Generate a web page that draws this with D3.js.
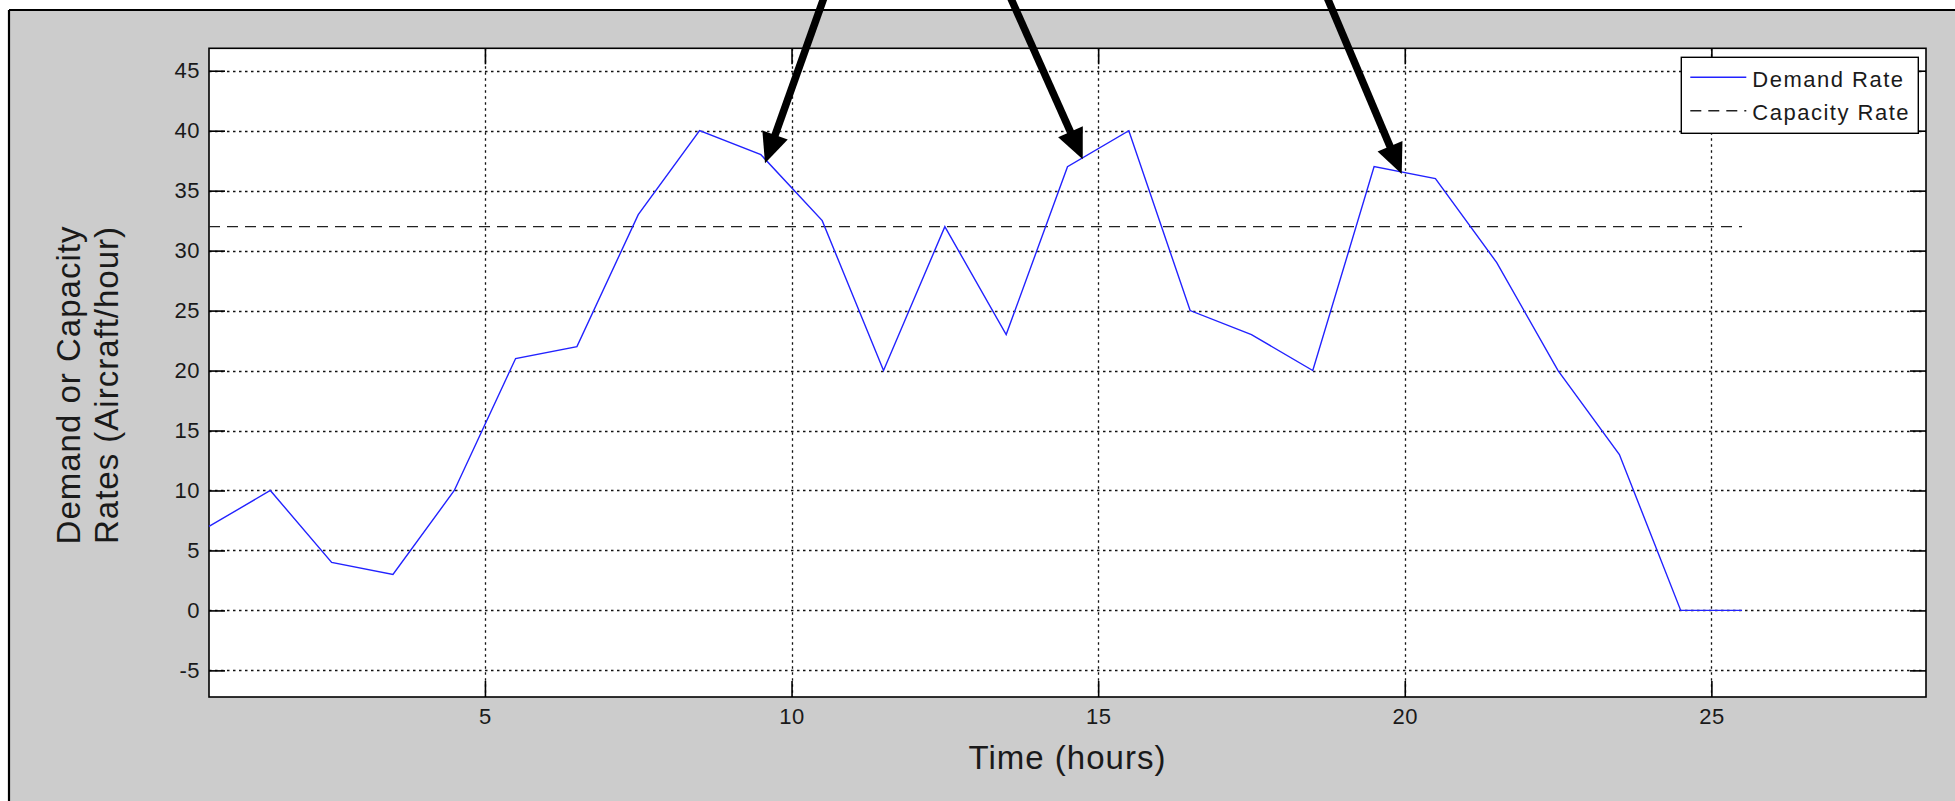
<!DOCTYPE html>
<html>
<head>
<meta charset="utf-8">
<script src="https://cdn.jsdelivr.net/npm/d3@7"></script>
<style>
  html, body { margin: 0; padding: 0; background: #ffffff; }
  svg { display: block; }
  text { font-family: "Liberation Sans", Arial, Helvetica, sans-serif; fill: #1a1a1a; }
</style>
</head>
<body>
<svg id="chart" width="1955" height="801"></svg>
<script>
// ---- data ----
const timeHours = [0.5,1.5,2.5,3.5,4.5,5.5,6.5,7.5,8.5,9.5,10.5,11.5,12.5,13.5,14.5,15.5,16.5,17.5,18.5,19.5,20.5,21.5,22.5,23.5,24.5,25.5];
const demandRate = [7,10,4,3,10,21,22,33,40,38,32.5,20,32,23,37,40,25,23,20,37,36,29,20,13,0,0];
const capacityTime = [0.5, 25.5];
const capacityRate = [32, 32];
const xTickValues = [5,10,15,20,25];
const yTickValues = [-5,0,5,10,15,20,25,30,35,40,45];
const xDomain = [0.5, 28.5];
const yDomain = [-7.22, 46.87];
// annotation arrows: tail (off the top) and tip, in data units
const arrowTailX = [10.745, 13.30, 18.478];
const arrowTailY = [54.2, 54.2, 54.2];
const arrowTipX = [9.567, 14.748, 19.95];
const arrowTipY = [37.28, 37.62, 36.39];
const legendLabels = ["Demand Rate", "Capacity Rate"];
const xLabel = "Time (hours)";
const yLabelLines = ["Demand or Capacity", "Rates (Aircraft/hour)"];

// ---- layout ----
const W = 1955, H = 801;
const plot = { left: 209, right: 1926, top: 48.3, bottom: 697 };

const svg = d3.select("#chart");

// figure background and frame
svg.append("rect").attr("x", 9).attr("y", 10).attr("width", W).attr("height", H)
  .attr("fill", "#cccccc");
svg.append("line").attr("x1", 9).attr("x2", W).attr("y1", 10).attr("y2", 10)
  .attr("stroke", "#000").attr("stroke-width", 2.2);
svg.append("line").attr("x1", 9).attr("x2", 9).attr("y1", 10).attr("y2", H)
  .attr("stroke", "#000").attr("stroke-width", 2.2);

const x = d3.scaleLinear().domain(xDomain).range([plot.left, plot.right]);
const y = d3.scaleLinear().domain(yDomain).range([plot.bottom, plot.top]);

// plot area
svg.append("rect").attr("x", plot.left).attr("y", plot.top)
  .attr("width", plot.right - plot.left).attr("height", plot.bottom - plot.top)
  .attr("fill", "#ffffff");

// grid
const grid = svg.append("g").attr("stroke", "#111").attr("stroke-width", 1.3)
  .attr("stroke-dasharray", "2.5,3.5");
grid.selectAll("line.gx").data(xTickValues).join("line").attr("class", "gx")
  .attr("x1", d => Math.round(x(d)) + 0.5).attr("x2", d => Math.round(x(d)) + 0.5)
  .attr("y1", plot.top).attr("y2", plot.bottom);
grid.selectAll("line.gy").data(yTickValues).join("line").attr("class", "gy")
  .attr("y1", d => Math.round(y(d)) + 0.5).attr("y2", d => Math.round(y(d)) + 0.5)
  .attr("x1", plot.left).attr("x2", plot.right);

// axes (ticks inside)
const tickLen = 16;
const fontTick = "22px";
const axB = svg.append("g").attr("transform", `translate(0,${plot.bottom})`)
  .call(d3.axisBottom(x).tickValues(xTickValues).tickSizeInner(-tickLen).tickSizeOuter(0).tickPadding(11));
const axT = svg.append("g").attr("transform", `translate(0,${plot.top})`)
  .call(d3.axisTop(x).tickValues(xTickValues).tickSizeInner(-tickLen).tickSizeOuter(0).tickFormat(""));
const axL = svg.append("g").attr("transform", `translate(${plot.left},0)`)
  .call(d3.axisLeft(y).tickValues(yTickValues).tickSizeInner(-tickLen).tickSizeOuter(0).tickPadding(9));
const axR = svg.append("g").attr("transform", `translate(${plot.right},0)`)
  .call(d3.axisRight(y).tickValues(yTickValues).tickSizeInner(-tickLen).tickSizeOuter(0).tickFormat(""));
[axB, axT, axL, axR].forEach(a => {
  a.select(".domain").remove();
  a.selectAll(".tick line").attr("stroke", "#000").attr("stroke-width", 1.6);
  a.selectAll(".tick text").attr("font-size", fontTick).attr("letter-spacing", "0.5px")
    .attr("font-family", "'Liberation Sans', Arial, sans-serif").attr("fill", "#1a1a1a");
});
axL.selectAll(".tick text").text(d => d < 0 ? "-" + Math.abs(d) : d);

// plot box
svg.append("rect").attr("x", plot.left).attr("y", plot.top)
  .attr("width", plot.right - plot.left).attr("height", plot.bottom - plot.top)
  .attr("fill", "none").attr("stroke", "#000").attr("stroke-width", 1.6);

// capacity line
const capData = capacityTime.map((t, i) => [t, capacityRate[i]]);
svg.append("path").datum(capData)
  .attr("d", d3.line().x(d => x(d[0])).y(d => y(d[1])))
  .attr("fill", "none").attr("stroke", "#222").attr("stroke-width", 1.4)
  .attr("stroke-dasharray", "11,7");

// demand line
const demData = timeHours.map((t, i) => [t, demandRate[i]]);
svg.append("path").datum(demData)
  .attr("d", d3.line().x(d => x(d[0])).y(d => y(d[1])))
  .attr("fill", "none").attr("stroke", "#2222ff").attr("stroke-width", 1.4)
  .attr("stroke-linejoin", "miter");

// legend
const lg = { right: plot.right - 7.7, top: plot.top + 9, w: 237, h: 76 };
const lgLeft = lg.right - lg.w;
const legend = svg.append("g");
legend.append("rect").attr("x", lgLeft).attr("y", lg.top).attr("width", lg.w).attr("height", lg.h)
  .attr("fill", "#fff").attr("stroke", "#000").attr("stroke-width", 1.4);
const rowY = [lg.top + 20, lg.top + 53.5];
legend.append("line").attr("x1", lgLeft + 9).attr("x2", lgLeft + 65)
  .attr("y1", rowY[0]).attr("y2", rowY[0]).attr("stroke", "#2222ff").attr("stroke-width", 1.4);
legend.append("line").attr("x1", lgLeft + 9).attr("x2", lgLeft + 65)
  .attr("y1", rowY[1]).attr("y2", rowY[1]).attr("stroke", "#222").attr("stroke-width", 1.4)
  .attr("stroke-dasharray", "11,7");
legendLabels.forEach((t, i) => {
  legend.append("text").attr("x", lgLeft + 71).attr("y", rowY[i] + 9.4)
    .attr("font-size", "22px").attr("letter-spacing", "1.5px").text(t);
});

// axis labels
svg.append("text").attr("x", (plot.left + plot.right) / 2).attr("y", 769)
  .attr("text-anchor", "middle").attr("font-size", "33px").attr("letter-spacing", "1px")
  .text(xLabel);
const yl = svg.append("g").attr("transform", "translate(0,385) rotate(-90)");
yLabelLines.forEach((t, i) => {
  yl.append("text").attr("x", 0).attr("y", 80 + i * 38.3)
    .attr("text-anchor", "middle").attr("font-size", "33px").attr("letter-spacing", "1px")
    .text(t);
});

// annotation arrows
const arrows = arrowTipX.map((tx, i) => ({
  x0: x(arrowTailX[i]), y0: y(arrowTailY[i]), x1: x(tx), y1: y(arrowTipY[i])
}));
const headLen = 30, headHalf = 13.5, shaftW = 7.5;
const ag = svg.append("g");
arrows.forEach(a => {
  const dx = a.x1 - a.x0, dy = a.y1 - a.y0, L = Math.hypot(dx, dy);
  const ux = dx / L, uy = dy / L, px = -uy, py = ux;
  const bx = a.x1 - ux * headLen, by = a.y1 - uy * headLen;
  ag.append("line").attr("x1", a.x0).attr("y1", a.y0).attr("x2", bx + ux * 2).attr("y2", by + uy * 2)
    .attr("stroke", "#000").attr("stroke-width", shaftW);
  ag.append("path")
    .attr("d", `M${a.x1},${a.y1}L${bx + px * headHalf},${by + py * headHalf}L${bx - px * headHalf},${by - py * headHalf}Z`)
    .attr("fill", "#000");
});
</script>
</body>
</html>
